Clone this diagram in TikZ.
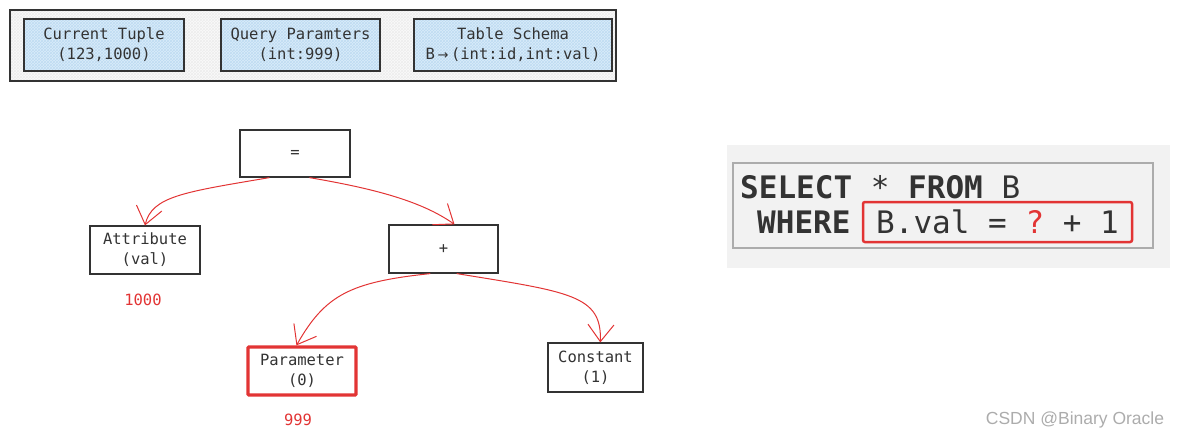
\documentclass[tikz,border=0pt]{standalone}
\usepackage{fontspec}
\usepackage{xcolor}
\usepackage{tikz}
\usetikzlibrary{arrows.meta, patterns, positioning, calc}
\setmonofont{DejaVu Sans Mono}
\setsansfont{Liberation Sans}
\definecolor{qred}{RGB}{226,52,52}
\definecolor{boxblue}{RGB}{218,236,250}
\definecolor{hatchblue}{RGB}{190,220,242}
\definecolor{ink}{RGB}{51,51,51}
\tikzset{
  databox/.style={draw=ink, line width=1.2pt, preaction={fill=boxblue}, pattern=crosshatch, pattern color=hatchblue,
    minimum height=52, inner sep=0pt, align=center, font=\ttfamily\fontsize{15.5}{20}\selectfont, text=ink},
  opbox/.style={draw=ink, line width=1.2pt, fill=white, inner sep=0pt, align=center,
    font=\ttfamily\fontsize{15.5}{20}\selectfont, text=ink},
  parambox/.style={opbox, draw=qred, line width=3.2pt, rounded corners=1pt},
  val/.style={text=qred, font=\ttfamily\fontsize{15.5}{18}\selectfont},
  flow/.style={draw=qred, line width=1pt, -{Straight Barb[length=17pt, width=26pt, line width=1pt]}},
  sqltext/.style={text=ink, inner sep=0pt, font=\ttfamily\fontsize{31}{36}\selectfont}
}

\begin{document}
\begin{tikzpicture}[x=1pt, y=-1pt]
          \useasboundingbox (0,0) rectangle (1180,440);

          \draw[ink, line width=1.2pt, preaction={fill=gray!4}, pattern=crosshatch, pattern color=gray!14]
            (10,10) rectangle (616,81);
          \node[databox, minimum width=160] (tuple) at (104,45) {Current Tuple\\(123,1000)};
          \node[databox, minimum width=159] (params) at (300.5,45) {Query Paramters\\(int:999)};
          \node[databox, minimum width=198] (schema) at (513,45) {Table Schema\\B\,{\fontspec{DejaVu Sans}\fontsize{13}{20}\selectfont→}\,(int:id,int:val)};

          \node[opbox, minimum width=110, minimum height=47] (eq) at (295,153.5) {=};
          \node[opbox, minimum width=110, minimum height=48] (attr) at (145,250) {Attribute\\(val)};
          \node[opbox, minimum width=109, minimum height=48] (plus) at (443.5,249) {+};
          \node[parambox, minimum width=108, minimum height=48] (param) at (302,371) {Parameter\\(0)};
          \node[opbox, minimum width=95, minimum height=49] (const) at (595.5,367.5) {Constant\\(1)};

          \node[val] (attrval) at (143,300) {1000};
          \node[val] (paramval) at (298,420) {999};

          \draw[flow] ($(eq.south west)!0.27!(eq.south east)$) .. controls (185,192) and (152,196) .. (attr.north);
          \draw[flow] ($(eq.south west)!0.63!(eq.south east)$) .. controls (370,188) and (420,200) .. ($(plus.north west)!0.6!(plus.north east)$);
          \draw[flow] ($(plus.south west)!0.38!(plus.south east)$) .. controls (350,282) and (325,295) .. ($(param.north west)!0.45!(param.north east)$);
          \draw[flow] ($(plus.south west)!0.62!(plus.south east)$) .. controls (570,292) and (602,295) .. ($(const.north west)!0.55!(const.north east)$);

          \fill[gray!10] (727,145) rectangle (1170,268);
          \draw[gray!65, line width=2pt] (733,163) rectangle (1153,248);
          \node[sqltext, anchor=base west] (select) at (740,198) {\bfseries SELECT\mdseries{} * \bfseries FROM\mdseries{} B};
          \node[sqltext, anchor=base west] (where) at (757,233) {\bfseries WHERE};
          \node[sqltext, draw=qred, line width=2.5pt, rounded corners=2pt, minimum width=269, minimum height=40] (cond)
            at (997.5,222) {B.val = {\color{qred}?} + 1};

          \node[text=gray!65, font=\sffamily\fontsize{17.5}{20}\selectfont] (mark) at (1075,420) {CSDN @Binary Oracle};
        \end{tikzpicture}
\end{document}
